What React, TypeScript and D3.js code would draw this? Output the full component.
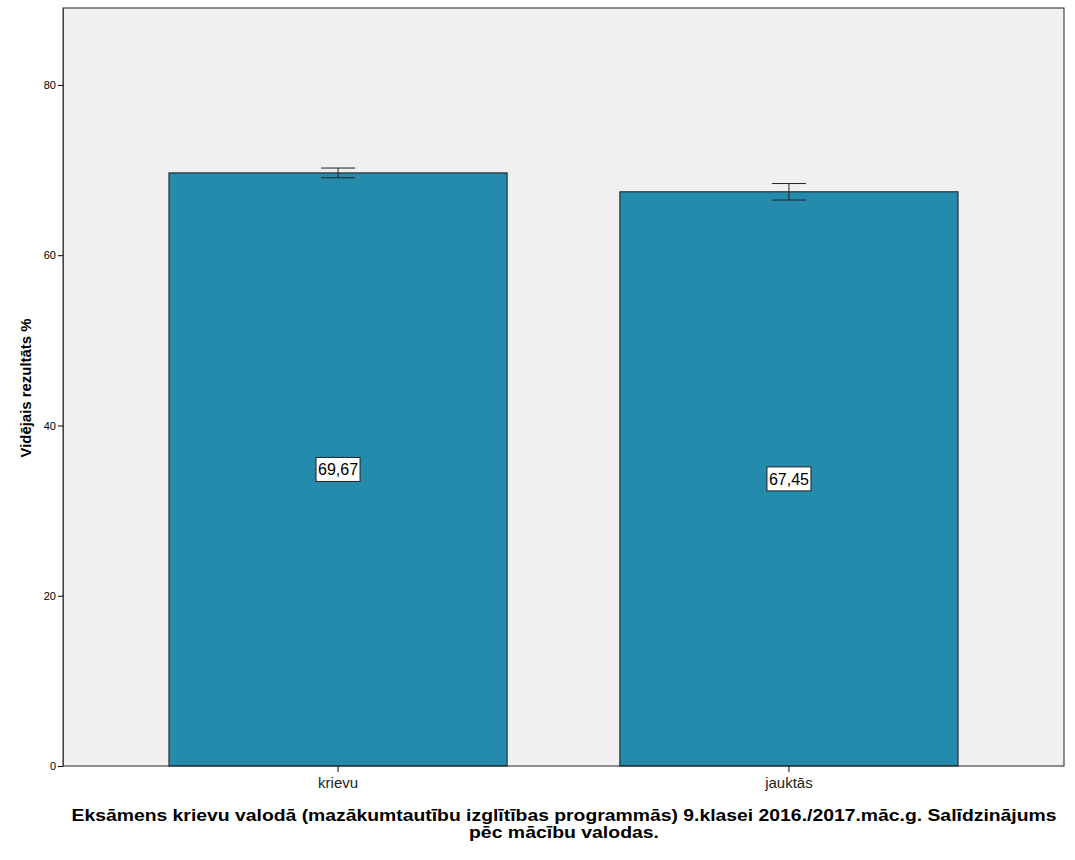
import { useEffect, useRef } from 'react';
import * as d3 from 'd3';

// Data
const categories = ['krievu', 'jauktās'];
const means = [69.67, 67.45];
const errLow = [69.1, 66.48];
const errHigh = [70.24, 68.42];
const yTicks = [0, 20, 40, 60, 80];
const valueLabels = ['69,67', '67,45'];

const titleLines = [
  'Eksāmens krievu valodā (mazākumtautību izglītības programmās) 9.klasei 2016./2017.māc.g. Salīdzinājums',
  'pēc mācību valodas.',
];
const titleWidths = [985, 190];
const yTitle = 'Vidējais rezultāts %';

const width = 1075;
const height = 860;

export default function App() {
  const svgRef = useRef<SVGSVGElement>(null);

  useEffect(() => {
    if (!svgRef.current) return;
    const svg = d3.select(svgRef.current);
    svg.selectAll('*').remove();

    const plot = { left: 63, right: 1064, top: 8, bottom: 766 };
    const font = 'Arial, "Liberation Sans", sans-serif';

    const x = d3.scaleBand<string>()
      .domain(categories)
      .range([plot.left, plot.right])
      .paddingInner(0.25)
      .paddingOuter(0.235);

    const y = d3.scaleLinear()
      .domain([0, 89.04])
      .range([plot.bottom, plot.top]);

    // Plot background
    svg.append('rect')
      .attr('x', plot.left)
      .attr('y', plot.top)
      .attr('width', plot.right - plot.left)
      .attr('height', plot.bottom - plot.top)
      .attr('fill', '#f0f0f0');

    const rows = categories.map((c, i) => ({
      c, v: means[i], lo: errLow[i], hi: errHigh[i], label: valueLabels[i],
    }));
    const cx = (d: { c: string }) => (x(d.c) || 0) + x.bandwidth() / 2;

    // Bars
    svg.selectAll('.bar')
      .data(rows)
      .enter()
      .append('rect')
      .attr('class', 'bar')
      .attr('x', d => x(d.c) || 0)
      .attr('y', d => y(d.v))
      .attr('width', x.bandwidth())
      .attr('height', d => y(0) - y(d.v))
      .attr('fill', '#248bac')
      .attr('stroke', '#1a1a1a')
      .attr('stroke-width', 1);

    // Error bars
    const cap = 17;
    const eb = svg.selectAll('.err')
      .data(rows)
      .enter()
      .append('g')
      .attr('class', 'err')
      .attr('stroke', '#222')
      .attr('stroke-width', 1);
    eb.append('line')
      .attr('x1', cx)
      .attr('x2', cx)
      .attr('y1', d => y(d.lo))
      .attr('y2', d => y(d.hi));
    eb.append('line')
      .attr('x1', d => cx(d) - cap)
      .attr('x2', d => cx(d) + cap)
      .attr('y1', d => y(d.hi))
      .attr('y2', d => y(d.hi));
    eb.append('line')
      .attr('x1', d => cx(d) - cap)
      .attr('x2', d => cx(d) + cap)
      .attr('y1', d => y(d.lo))
      .attr('y2', d => y(d.lo));

    // Value labels
    const lab = svg.selectAll('.vlab')
      .data(rows)
      .enter()
      .append('g')
      .attr('class', 'vlab')
      .attr('transform', d => `translate(${cx(d)},${y(d.v / 2)})`);
    lab.append('rect')
      .attr('x', -22)
      .attr('y', -12)
      .attr('width', 44)
      .attr('height', 24)
      .attr('fill', '#fff')
      .attr('stroke', '#222')
      .attr('stroke-width', 1);
    lab.append('text')
      .attr('text-anchor', 'middle')
      .attr('dy', '0.36em')
      .style('font-family', font)
      .style('font-size', '16px')
      .style('fill', '#000')
      .text(d => d.label);

    // Frame
    svg.append('rect')
      .attr('x', plot.left)
      .attr('y', plot.top)
      .attr('width', plot.right - plot.left)
      .attr('height', plot.bottom - plot.top)
      .attr('fill', 'none')
      .attr('stroke', '#222')
      .attr('stroke-width', 1);

    // Y axis
    const yAxis = svg.append('g')
      .attr('transform', `translate(${plot.left},0)`)
      .call(d3.axisLeft(y).tickValues(yTicks).tickSize(5).tickSizeOuter(0).tickPadding(2).tickFormat(d3.format('d')));
    yAxis.select('.domain').attr('stroke', '#444');
    yAxis.selectAll('text')
      .style('font-family', font)
      .style('font-size', '11px')
      .style('fill', '#000');

    // X axis
    const xAxis = svg.append('g')
      .attr('transform', `translate(0,${plot.bottom})`)
      .call(d3.axisBottom(x).tickSize(6).tickPadding(5));
    xAxis.select('.domain').remove();
    xAxis.selectAll('text')
      .style('font-family', font)
      .style('font-size', '15px')
      .style('fill', '#222');

    // Y title
    svg.append('text')
      .attr('transform', `translate(31,388) rotate(-90)`)
      .attr('text-anchor', 'middle')
      .attr('textLength', 139)
      .attr('lengthAdjust', 'spacingAndGlyphs')
      .style('font-family', font)
      .style('font-size', '14px')
      .style('font-weight', 'bold')
      .text(yTitle);

    // Chart title (below)
    svg.selectAll('.title')
      .data(titleLines)
      .enter()
      .append('text')
      .attr('class', 'title')
      .attr('x', 564)
      .attr('y', (_d, i) => 821 + i * 17)
      .attr('text-anchor', 'middle')
      .attr('textLength', (_d, i) => titleWidths[i])
      .attr('lengthAdjust', 'spacingAndGlyphs')
      .style('font-family', font)
      .style('font-size', '17px')
      .style('font-weight', 'bold')
      .text(d => d);
  }, []);

  return (
    <div style={{ position: 'absolute', left: 0, top: 0, background: '#fff' }}>
      <svg ref={svgRef} width={width} height={height} style={{ display: 'block' }} />
    </div>
  );
}
